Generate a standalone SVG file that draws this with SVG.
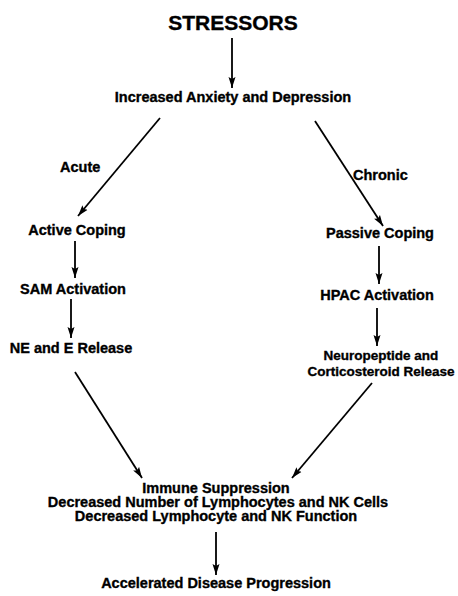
<svg xmlns="http://www.w3.org/2000/svg" width="458" height="596" viewBox="0 0 458 596">
<defs>
<marker id="ah" markerUnits="userSpaceOnUse" markerWidth="12" markerHeight="8" refX="11" refY="4" orient="auto">
<path d="M0,0.5 L11,4 L0,7.5 L2,4 z" fill="#000"/>
</marker>
<style>
text{font-family:"Liberation Sans",Arial,Helvetica,sans-serif;font-weight:bold;fill:#000;stroke:#000;stroke-width:0.35;font-size:14.5px}
.c{text-anchor:middle}
.big{font-size:21px}
.sm{font-size:13.5px}
.lbl{text-anchor:start}
.edge{stroke:#000;stroke-width:1.8;fill:none;marker-end:url(#ah)}
</style>
</defs>
<rect width="458" height="596" fill="#fff"/>
<g id="connectors">
<line class="edge" x1="232" y1="38" x2="232" y2="88"/>
<line class="edge" x1="160" y1="118" x2="78" y2="216"/>
<line class="edge" x1="315" y1="121" x2="383" y2="226"/>
<line class="edge" x1="75" y1="241" x2="75" y2="278"/>
<line class="edge" x1="71" y1="299" x2="71" y2="338"/>
<line class="edge" x1="379" y1="246" x2="379" y2="284"/>
<line class="edge" x1="377" y1="308" x2="377" y2="346"/>
<line class="edge" x1="75" y1="372" x2="142" y2="478"/>
<line class="edge" x1="372" y1="383" x2="292" y2="478"/>
<line class="edge" x1="216" y1="532" x2="216" y2="575"/>
<text class="lbl" x="60" y="172">Acute</text>
<text class="lbl" x="353" y="180">Chronic</text>
</g>
<g id="stressors"><text class="c big" x="233" y="30">STRESSORS</text></g>
<g id="anxiety"><text class="c" x="233" y="102">Increased Anxiety and Depression</text></g>
<g id="active-coping"><text class="c" x="77" y="235">Active Coping</text></g>
<g id="sam"><text class="c" x="73" y="294">SAM Activation</text></g>
<g id="ne-e"><text class="c" x="71" y="353">NE and E Release</text></g>
<g id="passive-coping"><text class="c" x="380" y="238">Passive Coping</text></g>
<g id="hpac"><text class="c" x="377" y="300">HPAC Activation</text></g>
<g id="neuropeptide"><text class="c sm" x="381" y="360">Neuropeptide and</text><text class="c sm" x="381" y="376">Corticosteroid Release</text></g>
<g id="immune"><text class="c" x="216" y="493">Immune Suppression</text><text class="c" x="218" y="507">Decreased Number of Lymphocytes and NK Cells</text><text class="c" x="216" y="521">Decreased Lymphocyte and NK Function</text></g>
<g id="disease"><text class="c" x="216" y="588">Accelerated Disease Progression</text></g>
</svg>
